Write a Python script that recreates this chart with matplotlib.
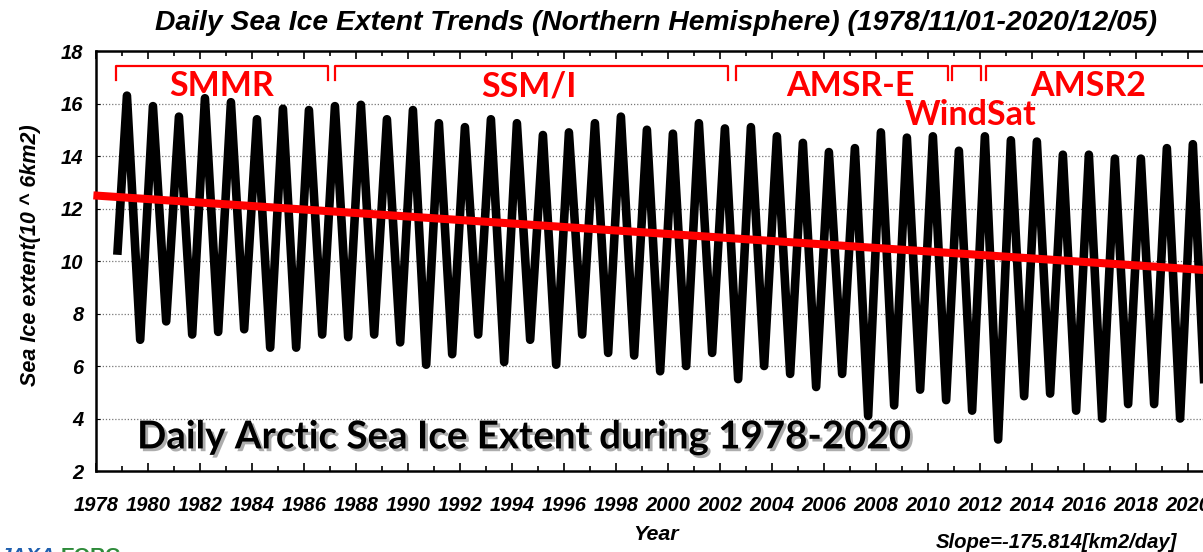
import matplotlib
matplotlib.use("Agg")
import matplotlib.pyplot as plt
import matplotlib.patheffects as pe

# annual extremes (10^6 km2)
years = list(range(1979, 2021))
annual_max = [16.3, 15.9, 15.5, 16.2, 16.05, 15.4, 15.8, 15.75, 15.9, 15.95,
              15.4, 15.75, 15.25, 15.1, 15.4, 15.25, 14.8, 14.9, 15.25, 15.5,
              15.0, 14.85, 15.25, 15.05, 15.1, 14.75, 14.5, 14.15, 14.3, 14.9,
              14.7, 14.75, 14.2, 14.75, 14.6, 14.55, 14.05, 14.05, 13.9, 13.9,
              14.3, 14.45]
annual_min = [7.0, 7.7, 7.2, 7.3, 7.4, 6.7, 6.7, 7.2, 7.1, 7.2,
              6.9, 6.05, 6.45, 7.2, 6.15, 7.0, 6.05, 7.2, 6.5, 6.4,
              5.8, 6.0, 6.5, 5.5, 6.0, 5.7, 5.2, 5.7, 4.1, 4.5,
              5.1, 4.7, 4.3, 3.2, 4.85, 4.95, 4.3, 4.0, 4.55, 4.55,
              4.0, 3.8]
max_time = 0.19   # fraction of year of the March maximum
min_time = 0.70   # fraction of year of the September minimum
first_point = (1978.83, 10.4)   # 1978/11/01
last_point = (2020.93, 10.9)    # 2020/12/05

trend_years = [1977.9, 2020.6]
trend_values = [12.5, 9.66]

sensors = ["SMMR", "SSM/I", "AMSR-E", "WindSat", "AMSR2"]
sensor_start = [1978.77, 1987.19, 2002.62, 2010.92, 2012.23]
sensor_end = [1986.92, 2002.31, 2010.77, 2012.04, 2021.5]
label_x = [1982.85, 1994.65, 2007.0, 2011.65, 2016.15]
label_y = [16.65, 16.65, 16.65, 15.55, 16.65]

# build the trace from the extremes
t = [first_point[0]]
v = [first_point[1]]
for yr, hi, lo in zip(years, annual_max, annual_min):
    t += [yr + max_time, yr + min_time]
    v += [hi, lo]
t.append(last_point[0])
v.append(last_point[1])

plt.rcParams['font.family'] = 'Liberation Sans'
fig = plt.figure(figsize=(12.03, 5.52), dpi=100)
ax = fig.add_axes([0.0798, 0.1467, 0.9202, 0.7609])

ax.plot(t, v, color='black', lw=6.2, solid_joinstyle='round', zorder=2)
ax.plot(trend_years, trend_values, color='#ff0000', lw=5.8, zorder=3,
        solid_capstyle='butt', clip_on=False)

ax.set_xlim(1978, 2020.58)
ax.set_ylim(2, 18)
ax.set_xticks(range(1978, 2021, 2))
ax.set_xticks(range(1978, 2021), minor=True)
ax.set_yticks(range(2, 19, 2))
ax.tick_params(axis='x', which='both', direction='in', top=True, pad=18,
               labelsize=14.5, width=1.2)
ax.tick_params(axis='x', which='major', length=6)
ax.tick_params(axis='x', which='minor', length=3.5)
ax.tick_params(axis='y', direction='in', length=3, pad=9, labelsize=14.5)
for lab in ax.get_xticklabels() + ax.get_yticklabels():
    lab.set_fontweight('bold')
    lab.set_fontstyle('italic')

for g in range(4, 17, 2):
    ax.axhline(g, color='#777777', lw=0.9, ls=(0, (1, 1.5)), zorder=1)

ax.spines['right'].set_visible(False)
for s in ['left', 'bottom', 'top']:
    ax.spines[s].set_linewidth(1.8)

ax.set_ylabel('Sea Ice extent(10 ^ 6km2)', fontsize=15.5, fontweight='bold',
              fontstyle='italic')
ax.yaxis.set_label_coords(-0.05, 0.515)
fig.text(0.545, 0.032, 'Year', fontsize=15.4, fontweight='bold', fontstyle='italic',
         ha='center', va='center')
fig.text(0.878, 0.018, 'Slope=-175.814[km2/day]', fontsize=14.6, fontweight='bold',
         fontstyle='italic', ha='center', va='center')
fig.text(0.545, 0.958, 'Daily Sea Ice Extent Trends (Northern Hemisphere) (1978/11/01-2020/12/05)',
         fontsize=20.3, fontweight='bold', fontstyle='italic', ha='center', va='center')

# sensor brackets and labels
for name, x0, x1, lx, ly in zip(sensors, sensor_start, sensor_end, label_x, label_y):
    ax.plot([x0, x0, x1, x1], [16.9, 17.42, 17.42, 16.9], color='#ff0000', lw=1.6,
            clip_on=False, zorder=4)
    ax.text(lx, ly, name, color='#ff0000', fontsize=24.5, fontweight='bold',
            family='Lato', ha='center', va='center', zorder=5)

ax.text(1994.5, 3.28, 'Daily Arctic Sea Ice Extent during 1978-2020', fontsize=27.7,
        fontweight='bold', family='Lato', ha='center', va='center', zorder=6,
        path_effects=[pe.withSimplePatchShadow(offset=(2, -2), shadow_rgbFace='#777777',
                                               alpha=0.6)])

# logo, mostly cut off at the bottom edge
fig.text(0.0, -0.025, 'JAXA', color='#1f5fae', fontsize=15, fontweight='bold',
         fontstyle='italic', ha='left', va='bottom')
fig.text(0.05, -0.025, 'EORC', color='#2e8b3a', fontsize=15, fontweight='bold',
         ha='left', va='bottom')

fig.savefig('out.png', dpi=100)
